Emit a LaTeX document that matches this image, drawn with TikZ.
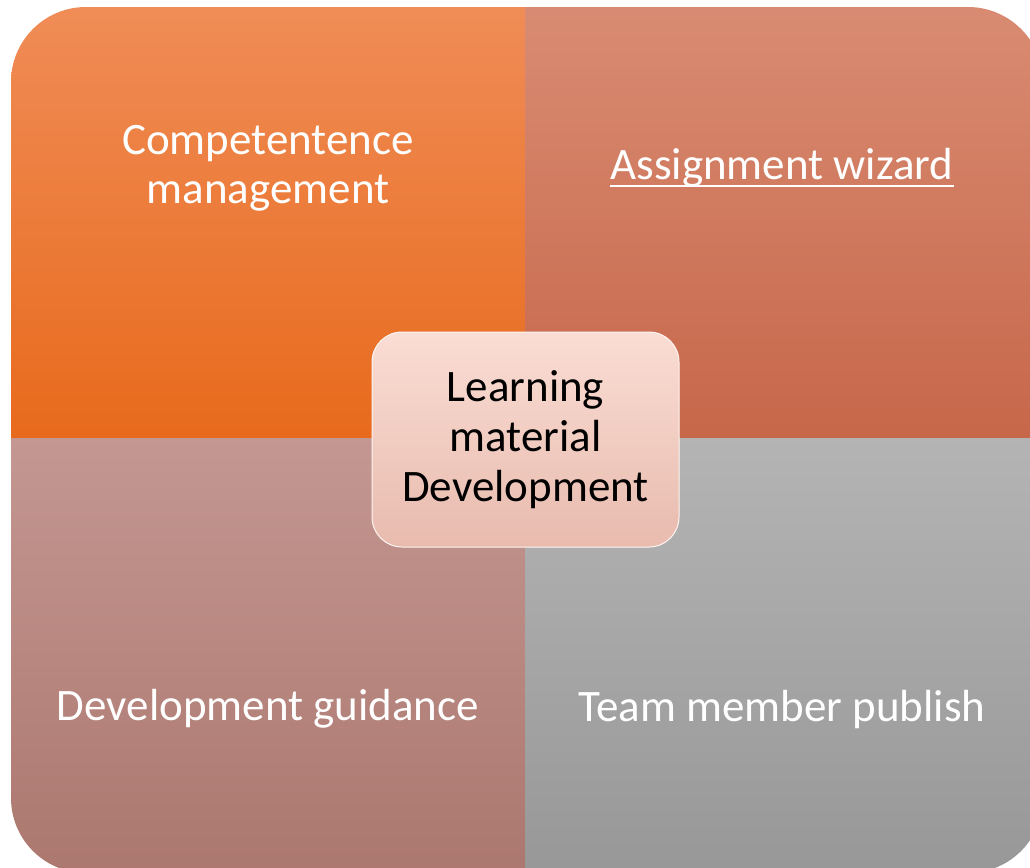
\documentclass[tikz,border=0pt]{standalone}
\usepackage{fontspec}
\setmainfont{Carlito}
\usetikzlibrary{positioning}

\definecolor{tlTop}{HTML}{F08D58}
\definecolor{tlBot}{HTML}{E86A1C}
\definecolor{trTop}{HTML}{D98C73}
\definecolor{trBot}{HTML}{C7674A}
\definecolor{blTop}{HTML}{C49792}
\definecolor{blBot}{HTML}{AB776E}
\definecolor{brTop}{HTML}{B4B4B4}
\definecolor{brBot}{HTML}{979797}
\definecolor{hubTop}{HTML}{FADDD4}
\definecolor{hubBot}{HTML}{E8BBAE}

\begin{document}
\begin{tikzpicture}[
  x=0.5pt, y=-0.5pt,
  quadtext/.style={text=white, align=center, font=\fontsize{22.5}{24.5}\selectfont},
  hub/.style={rounded corners=15pt, minimum width=153.5pt, minimum height=107.5pt,
    draw=white!70!hubTop, line width=0.5pt, top color=hubTop, bottom color=hubBot,
    align=center, font=\fontsize{22.5}{25}\selectfont, text=black}
]
\useasboundingbox (0,0) rectangle (1030,868);

% Quadrants
\begin{scope}
  \clip[rounded corners=37.5pt] (11,7) rectangle (1043,873);
  \shade[top color=tlTop, bottom color=tlBot] (0,0) rectangle (525,438);
  \shade[top color=trTop, bottom color=trBot] (525,0) rectangle (1060,438);
  \shade[top color=blTop, bottom color=blBot] (0,438) rectangle (525,880);
  \shade[top color=brTop, bottom color=brBot] (525,438) rectangle (1060,880);
\end{scope}

% Labels
\node[quadtext] (comp) at (268,168) {Competentence\\management};
\node[quadtext, inner xsep=0pt] (wiz) at (782,168) {Assignment wizard};
\draw[white, line width=1.2pt] ([yshift=-3pt]wiz.base west) -- ([yshift=-3pt]wiz.base east);
\node[quadtext] (guide) at (268,709) {Development guidance};
\node[quadtext] (pub) at (782,709) {Team member publish};

% Centre
\node[hub] (lmd) at (525.5,439.5) {Learning\\material\\Development};

\end{tikzpicture}
\end{document}
